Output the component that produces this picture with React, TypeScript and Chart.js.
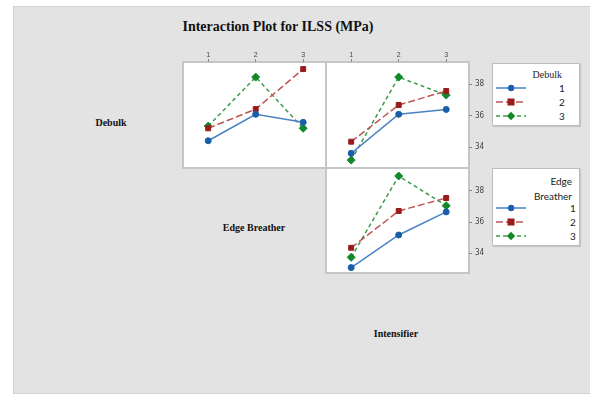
import React, { useEffect, useRef } from "react";
import { Chart, registerables } from "chart.js";

Chart.register(...registerables);

// ---------- data ----------
const LEVELS = [1, 2, 3];
const X_TICKS = [1, 2, 3];
const Y_TICKS = [34, 36, 38];

// Top-left panel: ILSS vs Edge Breather, one line per Debulk level
const ebDebulk1 = [34.4, 36.08, 35.57];
const ebDebulk2 = [35.19, 36.41, 38.95];
const ebDebulk3 = [35.33, 38.44, 35.19];

// Top-right panel: ILSS vs Intensifier, one line per Debulk level
const inDebulk1 = [33.6, 36.08, 36.39];
const inDebulk2 = [34.34, 36.67, 37.56];
const inDebulk3 = [33.17, 38.44, 37.3];

// Bottom-right panel: ILSS vs Intensifier, one line per Edge Breather level
const inEB1 = [33.08, 35.17, 36.65];
const inEB2 = [34.35, 36.71, 37.54];
const inEB3 = [33.74, 38.95, 37.05];

const SERIES_LABELS = ["1", "2", "3"];

// ---------- styles ----------
const STYLES = [
  { line: "#4a82c4", mark: "#1a5ea8", dash: [] as number[], shape: "circle", r: 3 },
  { line: "#bf5656", mark: "#991b1b", dash: [7, 3], shape: "rect", r: 3.5 },
  { line: "#3a9c4a", mark: "#13882a", dash: [4, 3], shape: "rectRot", r: 4 },
];

const X_MIN = 0.47;
const X_MAX = 3.48;
const Y_MIN = 32.67;
const Y_MAX = 39.4;

function makeDatasets(series: number[][]) {
  return series.map((vals, i) => {
    const s = STYLES[i];
    return {
      label: SERIES_LABELS[i],
      data: LEVELS.map((x, j) => ({ x, y: vals[j] })),
      borderColor: s.line,
      borderWidth: 1.5,
      borderDash: s.dash,
      backgroundColor: s.mark,
      pointBackgroundColor: s.mark,
      pointBorderColor: s.mark,
      pointBorderWidth: 1,
      pointStyle: s.shape,
      pointRadius: s.r,
      tension: 0,
      fill: false,
    };
  });
}

function PanelChart(props: {
  series: number[][];
  showX: boolean;
  showY: boolean;
  left: number;
  top: number;
  width: number;
  height: number;
}) {
  const ref = useRef<HTMLCanvasElement | null>(null);
  useEffect(() => {
    if (!ref.current) return;
    const chart = new Chart(ref.current, {
      type: "line",
      data: { datasets: makeDatasets(props.series) as any },
      options: {
        animation: false,
        responsive: false,
        maintainAspectRatio: false,
        layout: { padding: 0, autoPadding: false },
        plugins: { legend: { display: false }, tooltip: { enabled: false }, title: { display: false } },
        scales: {
          x: {
            type: "linear",
            position: "top",
            display: props.showX,
            min: X_MIN,
            max: X_MAX,
            afterBuildTicks: (s: any) => {
              s.ticks = X_TICKS.map((v) => ({ value: v }));
            },
            afterFit: (s: any) => {
              s.height = props.showX ? 17 : 0;
              s.paddingLeft = 0;
              s.paddingRight = 0;
            },
            ticks: {
              font: { size: 7, family: "Liberation Sans, Arial, sans-serif" },
              color: "#444",
              padding: 0,
            },
            grid: { drawOnChartArea: false, tickLength: 3, color: "#888", tickWidth: 1 },
            border: { display: false },
          },
          y: {
            type: "linear",
            position: "right",
            display: props.showY,
            min: Y_MIN,
            max: Y_MAX,
            afterBuildTicks: (s: any) => {
              s.ticks = Y_TICKS.map((v) => ({ value: v }));
            },
            afterFit: (s: any) => {
              s.width = props.showY ? 22 : 0;
              s.paddingTop = 0;
              s.paddingBottom = 0;
            },
            ticks: {
              font: { size: 8, family: "Liberation Sans Narrow, DejaVu Sans Condensed, sans-serif" },
              color: "#444",
              padding: 3,
            },
            grid: { drawOnChartArea: false, tickLength: 3, color: "#888", tickWidth: 1 },
            border: { display: false },
          },
        },
      },
    });
    return () => chart.destroy();
  }, []);
  return (
    <canvas
      ref={ref}
      width={props.width}
      height={props.height}
      style={{
        position: "absolute",
        left: props.left,
        top: props.top,
        width: props.width,
        height: props.height,
      }}
    />
  );
}

function Marker(props: { idx: number }) {
  const s = STYLES[props.idx];
  const cy = 4;
  const cx = 15;
  let shape: React.ReactNode = null;
  if (s.shape === "circle") shape = <circle cx={cx} cy={cy} r={3.2} fill={s.mark} />;
  else if (s.shape === "rect") shape = <rect x={cx - 3.5} y={cy - 3.5} width={7} height={7} fill={s.mark} />;
  else
    shape = (
      <polygon points={`${cx},${cy - 4.2} ${cx + 4.2},${cy} ${cx},${cy + 4.2} ${cx - 4.2},${cy}`} fill={s.mark} />
    );
  return (
    <svg width={30} height={9} style={{ position: "absolute", left: 0, top: -4.5, overflow: "visible" }}>
      <line
        x1={0}
        y1={cy}
        x2={30}
        y2={cy}
        stroke={s.line}
        strokeWidth={1.5}
        strokeDasharray={s.dash.length ? s.dash.join(" ") : undefined}
      />
      {shape}
    </svg>
  );
}

function Legend(props: {
  left: number;
  top: number;
  width: number;
  height: number;
  titleLines: string[];
  titleFont: string;
  titleRight: number;
  titleTops: number[];
  rowYs: number[];
  labelX: number;
}) {
  return (
    <div
      style={{
        position: "absolute",
        left: props.left,
        top: props.top,
        width: props.width,
        height: props.height,
        background: "#fff",
        border: "1px solid #bdbdbd",
        boxShadow: "1px 1px 1px #c8c8c8",
        boxSizing: "border-box",
      }}
    >
      {props.titleLines.map((t, i) => (
        <div
          key={t}
          style={{
            position: "absolute",
            right: props.titleRight,
            top: props.titleTops[i],
            font: props.titleFont,
            color: "#222",
            whiteSpace: "nowrap",
            lineHeight: "12px",
          }}
        >
          {t}
        </div>
      ))}
      {SERIES_LABELS.map((lab, i) => (
        <div key={lab} style={{ position: "absolute", left: 3, top: props.rowYs[i], width: props.width }}>
          <Marker idx={i} />
          <div
            style={{
              position: "absolute",
              left: props.labelX,
              top: -6,
              font: "10px Lato, 'Liberation Sans', sans-serif",
              color: "#222",
              lineHeight: "12px",
            }}
          >
            {lab}
          </div>
        </div>
      ))}
    </div>
  );
}

const labelStyle = (cx: number, cy: number, font: string): React.CSSProperties => ({
  position: "absolute",
  left: cx - 150,
  width: 300,
  top: cy - 8,
  height: 16,
  lineHeight: "16px",
  textAlign: "center",
  font,
  color: "#111",
  whiteSpace: "nowrap",
});

export default function App() {
  const panelBorder = "2px solid #c6c6c6";
  return (
    <div style={{ position: "absolute", left: 0, top: 0, width: 590, height: 394, background: "#fff", overflow: "hidden" }}>
      <div
        style={{
          position: "absolute",
          left: 13,
          top: 6,
          width: 580,
          height: 386,
          background: "#e3e3e3",
          borderTop: "1px solid #d2d2d2",
          borderLeft: "1px solid #d2d2d2",
          borderBottom: "1px solid #d2d2d2",
        }}
      />
      <div style={labelStyle(278, 27, "bold 14px 'Liberation Serif', 'Times New Roman', serif")}>
        Interaction Plot for ILSS (MPa)
      </div>
      <div style={labelStyle(111, 125, "bold 10px 'Liberation Serif', serif")}>Debulk</div>
      <div style={labelStyle(254, 230, "bold 10px 'Liberation Serif', serif")}>Edge Breather</div>
      <div style={labelStyle(396, 336, "bold 10px 'Liberation Serif', serif")}>Intensifier</div>

      {/* panel frames */}
      <div style={{ position: "absolute", left: 182, top: 61, width: 145, height: 108, background: "#fff", border: panelBorder, boxSizing: "border-box" }} />
      <div style={{ position: "absolute", left: 325, top: 61, width: 145, height: 108, background: "#fff", border: panelBorder, boxSizing: "border-box" }} />
      <div style={{ position: "absolute", left: 325, top: 167, width: 145, height: 107, background: "#fff", border: panelBorder, boxSizing: "border-box" }} />

      <PanelChart series={[ebDebulk1, ebDebulk2, ebDebulk3]} showX={true} showY={false} left={183} top={45} width={143} height={123} />
      <PanelChart series={[inDebulk1, inDebulk2, inDebulk3]} showX={true} showY={true} left={326} top={45} width={165} height={123} />
      <PanelChart series={[inEB1, inEB2, inEB3]} showX={false} showY={true} left={326} top={169} width={165} height={105} />

      <Legend
        left={492}
        top={63}
        width={88}
        height={63}
        titleLines={["Debulk"]}
        titleFont="10px 'Liberation Serif', serif"
        titleRight={17}
        titleTops={[5]}
        rowYs={[24, 38, 52]}
        labelX={63}
      />
      <Legend
        left={492}
        top={168}
        width={88}
        height={78}
        titleLines={["Edge", "Breather"]}
        titleFont="10px Lato, 'Liberation Sans', sans-serif"
        titleRight={7}
        titleTops={[6, 21]}
        rowYs={[39, 53, 67]}
        labelX={74}
      />
    </div>
  );
}
